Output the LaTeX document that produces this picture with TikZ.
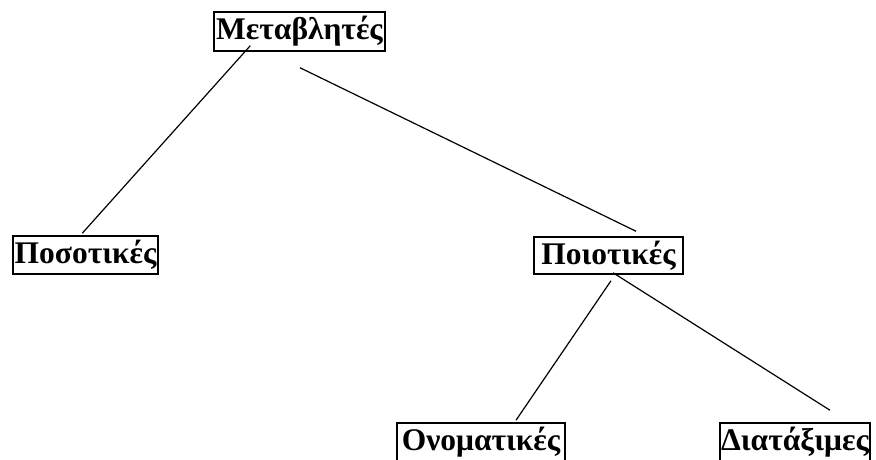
\documentclass[tikz,border=0pt]{standalone}
\usepackage{fontspec}
\setmainfont{Liberation Serif}
\usetikzlibrary{calc}
\begin{document}
\begin{tikzpicture}[x=1pt,y=1pt,
  box/.style={draw=black, line width=1.5pt, inner sep=0pt, minimum height=38pt,
    font=\fontsize{31.5}{33}\selectfont\bfseries},
  link/.style={line width=1.2pt}]
\useasboundingbox (0,0) rectangle (876,-460);
\node[box, minimum width=171pt, minimum height=39pt] (m) at (299.5,-31.5) {Μεταβλητές};
\node[box, minimum width=145pt] (p1) at (85.5,-255) {Ποσοτικές};
\node[box, minimum width=149pt, minimum height=37pt] (p2) at (608.5,-255.5) {Ποιοτικές};
\node[box, minimum width=168pt] (o) at (481,-442) {Ονοματικές};
\node[box, minimum width=150pt] (d) at (795,-442) {Διατάξιμες};
\draw[link] ($(m.south west)+(37,6)$) -- ($(p1.north west)+(70,2)$);
\draw[link] ($(m.south)+(0.5,-16)$) -- ($(p2.north)+(27.5,5)$);
\draw[link] ($(p2.south)+(2.5,-6)$) -- ($(o.north)+(35,2)$);
\draw[link] ($(p2.south)+(4.5,2)$) -- ($(d.north)+(35,12)$);
\end{tikzpicture}
\end{document}
